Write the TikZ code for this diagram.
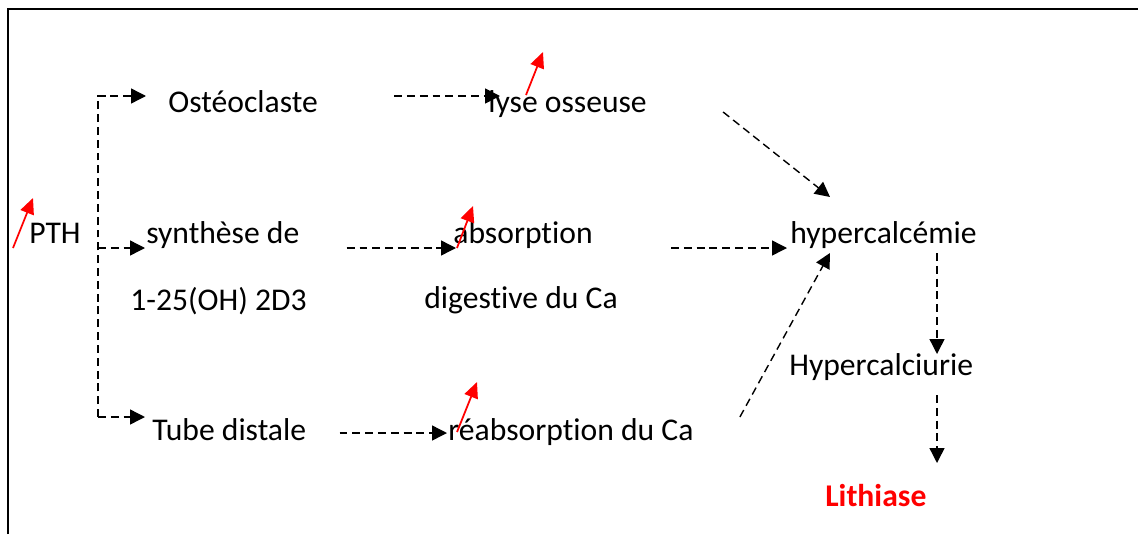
\documentclass[tikz,border=0pt]{standalone}
\usepackage{fontspec}
\setmainfont{Carlito}[Ligatures=NoCommon]
\usetikzlibrary{arrows.meta,calc}
\begin{document}
\begin{tikzpicture}[x=0.02cm,y=-0.02cm,
  txt/.style={anchor=base west,inner sep=0pt,font=\fontsize{18}{22}\selectfont},
  flow/.style={dash pattern=on 4.5pt off 2.8pt,line width=0.8pt,-{Triangle[length=8.5pt,width=8.5pt]}},
  rise/.style={red,line width=1pt,-{Triangle[length=9pt,width=8pt]}}]
  \useasboundingbox (0,0) rectangle (1138,534);
  \draw[line width=1.1pt] (8,534) -- (8,9) -- (1138,9);

  \node[txt] (pth) at (29,243) {PTH};
  \node[txt] (ost) at (168,112) {Ostéoclaste};
  \node[txt] (lyse) at (488,112) {lyse osseuse};
  \node[txt] (synth) at (146,243) {synthèse de};
  \node[txt] (vitd) at (130,310) {1-25(OH) 2D3};
  \node[txt] (abs) at (453,243) {absorption};
  \node[txt] (dig) at (424,308) {digestive du Ca};
  \node[txt] (tube) at (152,440) {Tube distale};
  \node[txt] (reabs) at (448,440) {réabsorption du Ca};
  \node[txt] (hypcal) at (790,243) {hypercalcémie};
  \node[txt] (hypcau) at (789,375) {Hypercalciurie};
  \node[txt,font=\fontsize{18}{22}\selectfont\bfseries,red] (lith) at (825,506) {Lithiase};

  \coordinate (top) at (98,96);
  \coordinate (mid) at (98,248);
  \coordinate (bot) at (98,417);
  \draw[flow] (bot) -- (top) -- ($(ost.base west)+(-22,-16)$);
  \draw[flow] (mid) -- ($(synth.base west)+(-1,5)$);
  \draw[flow] (bot) -- ($(tube.base west)+(-7,-23)$);

  \draw[flow] ($(ost.base east)+(76,-16)$) -- ($(lyse.base west)+(12,-16)$);
  \draw[flow] ($(synth.base east)+(47,5)$) -- ($(abs.base west)+(3,5)$);
  \draw[flow] ($(tube.base east)+(33,-7)$) -- ($(reabs.base west)+(-1,-7)$);
  \draw[flow] ($(lyse.base east)+(76,0)$) -- ($(hypcal.base west)+(40,-46)$);
  \draw[flow] ($(abs.base east)+(78,5)$) -- ($(hypcal.base west)+(-3,5)$);
  \draw[flow] ($(reabs.base east)+(46,-23)$) -- ($(hypcal.base west)+(40,10)$);
  \draw[flow] ($(hypcal.base west)+(147,10)$) -- ($(hypcau.base west)+(148,-21)$);
  \draw[flow] ($(hypcau.base west)+(148,20)$) -- ($(lith.base west)+(112,-43)$);

  \draw[rise] ($(pth.base west)+(-16,5)$) -- ($(pth.base west)+(4,-45)$);
  \draw[rise] ($(lyse.base west)+(38,-17)$) -- ($(lyse.base west)+(55,-60)$);
  \draw[rise] ($(abs.base west)+(4,5)$) -- ($(abs.base west)+(20,-37)$);
  \draw[rise] ($(reabs.base west)+(9,-8)$) -- ($(reabs.base west)+(29,-58)$);
\end{tikzpicture}
\end{document}
